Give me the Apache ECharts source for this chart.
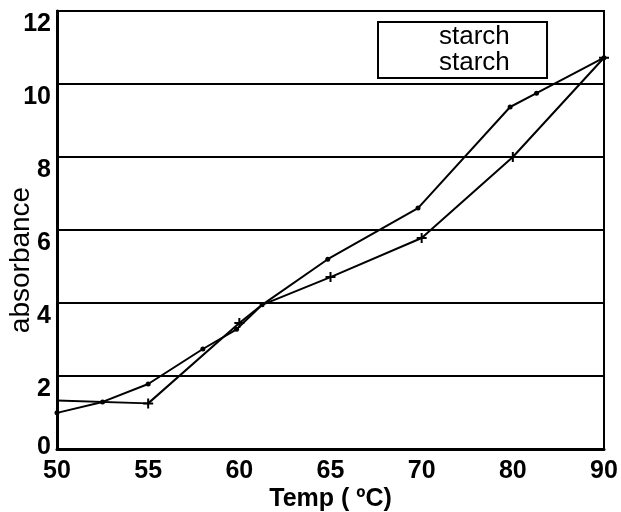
<!DOCTYPE html>
<html><head><meta charset="utf-8">
<script src="https://cdn.jsdelivr.net/npm/echarts@6/dist/echarts.min.js"></script>
<style>html,body{margin:0;padding:0;background:#fff}#c{width:621px;height:512px}</style>
</head><body><div id="c"></div>
<script>
// Category tick labels along the temperature axis (evenly spaced)
const categories = ['50', '55', '60', '65', '70', '80', '90'];
const yTicks = [0, 2, 4, 6, 8, 10, 12];
// Series 1 (dot markers): positions in category-index units, absorbance values
const dotX = [0, 0.5, 1, 1.6, 1.97, 2.25, 2.97, 3.96, 4.97, 5.26, 6];
const dotY = [0.99, 1.29, 1.78, 2.74, 3.28, 3.95, 5.2, 6.6, 9.37, 9.75, 10.72];
// Series 2 (cross markers)
const crossX = [0, 1, 2, 2.25, 3, 4, 5, 6];
const crossY = [1.33, 1.25, 3.45, 3.95, 4.71, 5.78, 8.0, 10.72];
const seriesNames = ['starch', 'starch '];

const zip = (xs, ys) => xs.map((x, i) => [x, ys[i]]);
const chart = echarts.init(document.getElementById('c'));
const font = '"Liberation Sans", Arial, sans-serif';
const plus = 'path://M4,0H6V10H4Z M0,4H10V6H0Z';
chart.setOption({
  animation: false,
  backgroundColor: '#fff',
  grid: { left: 57, right: 17, top: 11, bottom: 63, containLabel: false, outerBoundsMode: 'none',
          show: true, borderColor: '#000', borderWidth: 2 },
  legend: {
    orient: 'vertical', left: 378, top: 22,
    itemWidth: 0, itemHeight: 0, itemGap: 0, icon: 'none',
    padding: [2, 30, 2, 56],
    borderColor: '#000', borderWidth: 2,
    textStyle: { fontFamily: font, fontSize: 26, color: '#000', lineHeight: 26 },
    data: seriesNames
  },
  xAxis: {
    type: 'value', min: 0, max: categories.length - 1, interval: 1,
    name: 'Temp ( ºC)', nameLocation: 'middle', nameGap: 38, nameMoveOverlap: false,
    nameTextStyle: { fontFamily: font, fontSize: 25, fontWeight: 'bold', color: '#000' },
    axisLine: { show: true, lineStyle: { color: '#000', width: 3 } },
    axisTick: { show: false },
    splitLine: { show: false },
    axisLabel: { formatter: v => categories[v], fontFamily: font, fontSize: 25, fontWeight: 'bold', color: '#000', margin: 10 }
  },
  yAxis: {
    type: 'value', min: yTicks[0], max: yTicks[yTicks.length - 1], interval: 2,
    name: 'absorbance', nameLocation: 'middle', nameGap: 22, nameRotate: 90, nameMoveOverlap: false,
    nameTextStyle: { fontFamily: font, fontSize: 28, color: '#000', padding: [0, 60, 0, 0] },
    axisLine: { show: true, lineStyle: { color: '#000', width: 3 } },
    axisTick: { show: false },
    splitLine: { show: true, lineStyle: { color: '#000', width: 2 } },
    axisLabel: {
      fontFamily: font, fontSize: 25, fontWeight: 'bold', color: '#000', margin: 6,
      formatter: v => v === 0 ? '{z|0}' : '{n|' + v + '}',
      rich: {
        n: { fontFamily: font, fontSize: 25, fontWeight: 'bold', color: '#000', padding: [26, 0, 0, 0] },
        z: { fontFamily: font, fontSize: 25, fontWeight: 'bold', color: '#000', padding: [0, 0, 4, 0] }
      }
    }
  },
  series: [
    {
      name: seriesNames[0], type: 'line', data: zip(dotX, dotY),
      symbol: 'circle', symbolSize: 5, showAllSymbol: true,
      lineStyle: { color: '#000', width: 2 }, itemStyle: { color: '#000' }
    },
    {
      name: seriesNames[1], type: 'line', data: zip(crossX, crossY),
      symbol: (val) => (val[0] > 0 && Number.isInteger(val[0])) ? plus : 'none',
      symbolSize: 10, showAllSymbol: true,
      lineStyle: { color: '#000', width: 2 }, itemStyle: { color: '#000' }
    }
  ]
});
</script></body></html>
